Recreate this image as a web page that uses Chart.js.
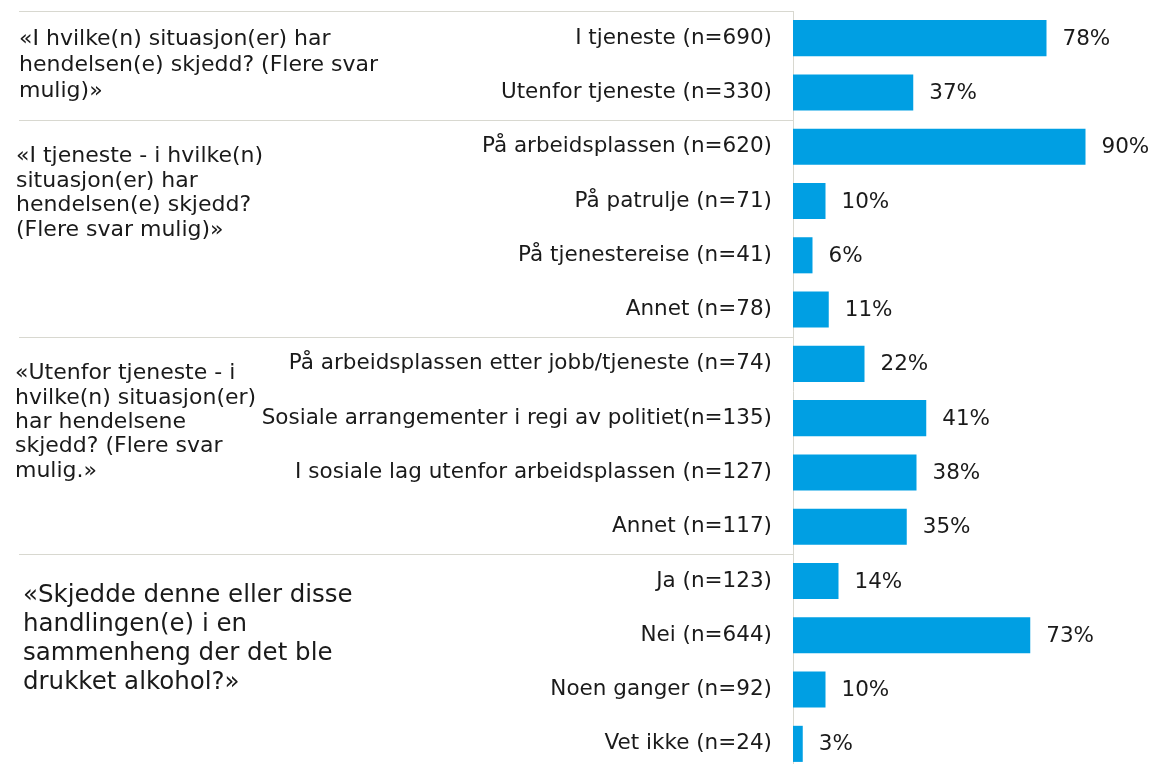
<!DOCTYPE html>
<html lang="no">
<head>
    <meta charset="UTF-8">
    <title>Situasjoner for hendelsene</title>
    <script src="https://cdn.jsdelivr.net/npm/chart.js"></script>
    <style>
        html, body {
            margin: 0;
            padding: 0;
            background: #ffffff;
            overflow: hidden;
        }
        .chart-box {
            position: relative;
            width: 1153px;
            height: 782px;
        }
    </style>
</head>
<body>
    <div class="chart-box">
        <canvas id="situasjonChart"></canvas>
    </div>

    <script>
        // kategorier (y-akse)
        const categories = [
            'I tjeneste (n=690)',
            'Utenfor tjeneste (n=330)',
            'På arbeidsplassen (n=620)',
            'På patrulje (n=71)',
            'På tjenestereise (n=41)',
            'Annet (n=78)',
            'På arbeidsplassen etter jobb/tjeneste (n=74)',
            'Sosiale arrangementer i regi av politiet(n=135)',
            'I sosiale lag utenfor arbeidsplassen (n=127)',
            'Annet (n=117)',
            'Ja (n=123)',
            'Nei (n=644)',
            'Noen ganger (n=92)',
            'Vet ikke (n=24)'
        ];

        // prosentverdier
        const values = [78, 37, 90, 10, 6, 11, 22, 41, 38, 35, 14, 73, 10, 3];

        // spørsmålsgrupper: tekstlinjer og hvilke kategorier de dekker
        const groupLines = [
            ['«I hvilke(n) situasjon(er) har', 'hendelsen(e) skjedd? (Flere svar', 'mulig)»'],
            ['«I tjeneste - i hvilke(n)', 'situasjon(er) har', 'hendelsen(e) skjedd?', '(Flere svar mulig)»'],
            ['«Utenfor tjeneste - i', 'hvilke(n) situasjon(er)', 'har hendelsene', 'skjedd? (Flere svar', 'mulig.»'],
            ['«Skjedde denne eller disse', 'handlingen(e) i en', 'sammenheng der det ble', 'drukket alkohol?»']
        ];
        const groupStart = [0, 2, 6, 10];

        // plassering av gruppetekst (stil, ikke data)
        const groupStyle = [
            { x: 19, first: 28, lineH: 26, size: 22 },
            { x: 16, first: 37, lineH: 24.5, size: 22 },
            { x: 15, first: 37, lineH: 24.3, size: 22 },
            { x: 23, first: 42, lineH: 29, size: 24.5 }
        ];

        const FONT = '"DejaVu Sans", Verdana, sans-serif';
        const BAR_COLOR = '#009fe3';
        const LINE_COLOR = '#d8d8d0';

        const groupPlugin = {
            id: 'groupPlugin',
            afterDraw(chart) {
                const ctx = chart.ctx;
                const y = chart.scales.y;
                const axisX = chart.chartArea.left;
                const half = (y.getPixelForValue(1) - y.getPixelForValue(0)) / 2;

                ctx.save();
                // skillelinjer
                ctx.strokeStyle = LINE_COLOR;
                ctx.lineWidth = 1;
                groupStart.forEach(idx => {
                    const py = Math.round(y.getPixelForValue(idx) - half) + 0.5;
                    ctx.beginPath();
                    ctx.moveTo(19, py);
                    ctx.lineTo(axisX, py);
                    ctx.stroke();
                });

                // gruppetekst
                ctx.fillStyle = '#1a1a1a';
                ctx.textAlign = 'left';
                ctx.textBaseline = 'middle';
                groupLines.forEach((lines, g) => {
                    const st = groupStyle[g];
                    const top = y.getPixelForValue(groupStart[g]) - half;
                    ctx.font = st.size + 'px ' + FONT;
                    lines.forEach((line, i) => {
                        ctx.fillText(line, st.x, top + st.first + i * st.lineH);
                    });
                });

                // verdietiketter
                ctx.font = '21.5px ' + FONT;
                ctx.fillStyle = '#1a1a1a';
                const meta = chart.getDatasetMeta(0);
                meta.data.forEach((bar, i) => {
                    ctx.fillText(values[i] + '%', bar.x + 16, bar.y + 1);
                });
                ctx.restore();
            }
        };

        new Chart(document.getElementById('situasjonChart'), {
            type: 'bar',
            data: {
                labels: categories,
                datasets: [{
                    data: values,
                    backgroundColor: BAR_COLOR,
                    borderWidth: 0,
                    barPercentage: 0.665,
                    categoryPercentage: 1
                }]
            },
            options: {
                indexAxis: 'y',
                responsive: true,
                maintainAspectRatio: false,
                animation: false,
                layout: {
                    padding: { top: 11, right: 35, bottom: 11, left: 0 }
                },
                plugins: {
                    legend: { display: false },
                    tooltip: { enabled: false }
                },
                scales: {
                    x: {
                        display: false,
                        min: 0,
                        max: 100
                    },
                    y: {
                        afterFit(scale) {
                            scale.width = 793;
                        },
                        grid: {
                            display: true,
                            drawOnChartArea: false,
                            drawTicks: true,
                            tickLength: 21,
                            color: 'rgba(0,0,0,0)'
                        },
                        border: { display: true, color: LINE_COLOR, width: 1 },
                        ticks: {
                            padding: 0,
                            color: '#1a1a1a',
                            font: { family: FONT, size: 21.5, lineHeight: 1 },
                            autoSkip: false
                        }
                    }
                }
            },
            plugins: [groupPlugin]
        });
    </script>
</body>
</html>
